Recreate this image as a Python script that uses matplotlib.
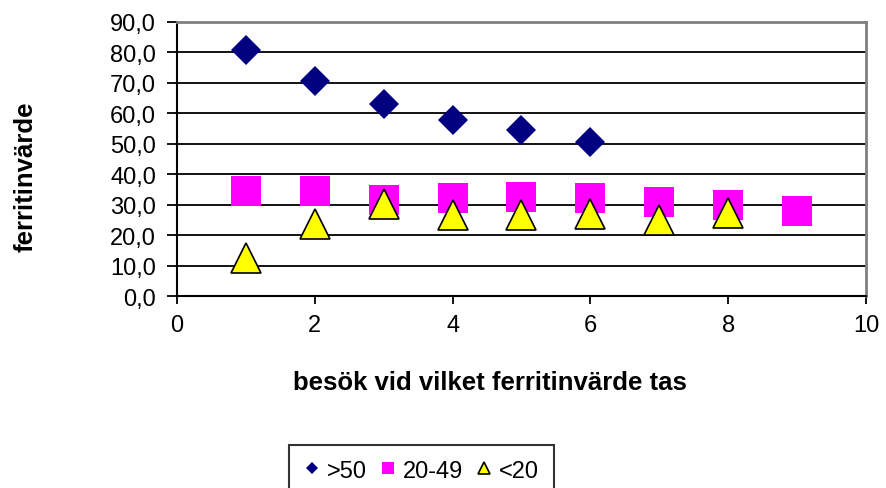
import matplotlib.pyplot as plt
from matplotlib.ticker import FuncFormatter

plt.rcParams['font.family'] = ['Liberation Sans', 'DejaVu Sans']

# besök nr
x_high = [1, 2, 3, 4, 5, 6]
x_mid = [1, 2, 3, 4, 5, 6, 7, 8, 9]
x_low = [1, 2, 3, 4, 5, 6, 7, 8]

# ferritinvärde per grupp
high = [80.8, 70.6, 63.0, 57.8, 54.5, 50.6]
mid = [34.5, 34.5, 31.5, 32.2, 32.5, 32.2, 31.0, 30.0, 27.9]
low = [12.5, 23.6, 30.3, 26.6, 26.6, 26.8, 25.0, 27.3]

labels = ['>50', '20-49', '<20']

fig = plt.figure(figsize=(8.86, 4.89), dpi=100)
ax = fig.add_axes([0.1998, 0.3926, 0.7776, 0.5604])

ax.plot(x_high, high, 'D', color='#000080', ms=14.8, mew=0, label=labels[0], zorder=3)
ax.plot(x_mid, mid, 's', color='#FF00FF', ms=21.5, mew=0, label=labels[1], zorder=3)
ax.plot(x_low, low, '^', mfc='#FFFF00', mec='black', ms=21, mew=1.2, label=labels[2], zorder=4)

ax.set_xlim(0, 10)
ax.set_ylim(0, 90)
ax.set_xticks(range(0, 11, 2))
ax.set_yticks(range(0, 91, 10))
ax.yaxis.set_major_formatter(FuncFormatter(lambda v, p: ('%.1f' % v).replace('.', ',')))
ax.grid(axis='y', color='black', lw=1.3)
ax.set_axisbelow(True)

ax.tick_params(axis='both', direction='out', labelsize=17, width=1.3, color='black')
ax.tick_params(axis='y', length=7, pad=8)
ax.tick_params(axis='x', length=6, pad=7)

for s in ['top', 'right']:
    ax.spines[s].set_color('#808080')
    ax.spines[s].set_linewidth(2)
for s in ['left', 'bottom']:
    ax.spines[s].set_color('black')
    ax.spines[s].set_linewidth(1.5)

fig.text(26 / 886, 1 - 177 / 489, 'ferritinvärde', rotation=90, ha='center', va='center',
         fontsize=18.5, fontweight='bold')
fig.text(490 / 886, 1 - 383 / 489, 'besök vid vilket ferritinvärde tas', ha='center', va='center',
         fontsize=18.5, fontweight='bold')

# legend box sits at the bottom edge, its lower border runs off the picture
leg = fig.legend(loc='upper left', bbox_to_anchor=(289 / 886, 0, 265 / 886, 1 - 446 / 489),
                 mode='expand', ncol=3, fontsize=17, markerscale=0.4, frameon=True,
                 fancybox=False, edgecolor='black', handlelength=0.7, handletextpad=0.3,
                 borderaxespad=0, borderpad=0.62)
leg.get_frame().set_linewidth(1.5)

fig.savefig('out.png', dpi=100)
